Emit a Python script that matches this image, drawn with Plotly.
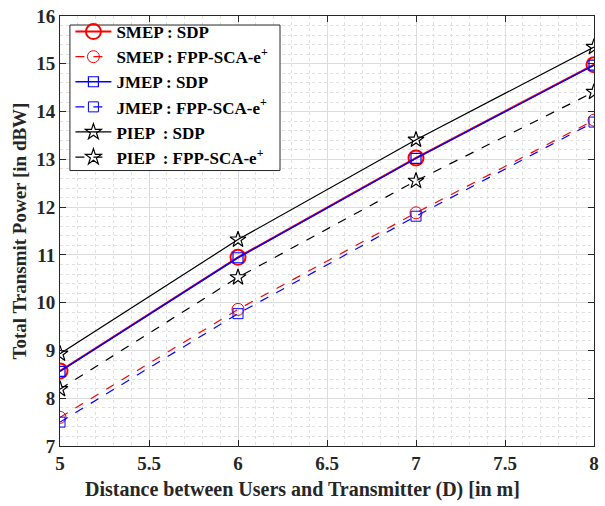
import plotly.graph_objects as go

D = [5, 6, 7, 8]
smep_sdp = [8.57, 10.95, 13.03, 14.98]
smep_fpp = [7.60, 9.86, 11.88, 13.82]
jmep_sdp = [8.56, 10.94, 13.02, 14.97]
jmep_fpp = [7.50, 9.77, 11.81, 13.78]
piep_sdp = [8.93, 11.32, 13.41, 15.35]
piep_fpp = [8.19, 10.53, 12.55, 14.41]

names = [
    "<b>SMEP : SDP</b>",
    "<b>SMEP : FPP-SCA-e<sup>+</sup></b>",
    "<b>JMEP : SDP</b>",
    "<b>JMEP : FPP-SCA-e<sup>+</sup></b>",
    "<b>PIEP  : SDP</b>",
    "<b>PIEP  : FPP-SCA-e<sup>+</sup></b>",
]

fig = go.Figure()
series = [
    (smep_sdp, "red", "solid", "circle-open", 15, 2.0, 2.0),
    (smep_fpp, "red", "dash", "circle-open", 12, 1.2, 1.0),
    (jmep_sdp, "blue", "solid", "square-open", 10, 1.5, 1.2),
    (jmep_fpp, "blue", "dash", "square-open", 10, 1.2, 1.0),
    (piep_sdp, "black", "solid", "star-open", 12, 1.2, 1.2),
    (piep_fpp, "black", "dash", "star-open", 12, 1.2, 1.2),
]
for (y, c, dash, sym, ms, lw, mlw), nm in zip(series, names):
    fig.add_trace(go.Scatter(
        x=D, y=y, name=nm, mode="lines+markers",
        line=dict(color=c, width=lw, dash=dash),
        marker=dict(symbol=sym, size=ms, color=c, line=dict(color=c, width=mlw)),
    ))

# legend frame (white box with dark border) drawn as a layout shape
fig.add_shape(type="rect", xref="paper", yref="paper",
              x0=0.0186, x1=0.412, y0=0.6406, y1=0.979,
              fillcolor="white", line=dict(color="#262626", width=1), layer="above")

fig.update_layout(
    width=605, height=506,
    margin=dict(l=60, r=6, t=12, b=60),
    paper_bgcolor="white", plot_bgcolor="white",
    font=dict(family="Liberation Serif", color="#262626"),
    legend=dict(
        x=0.0195, y=1.0046, xanchor="left", yanchor="top",
        bgcolor="rgba(0,0,0,0)", borderwidth=0,
        font=dict(family="Liberation Serif", size=17, color="black"),
        tracegroupgap=0, itemwidth=36,
    ),
    annotations=[dict(
        text="<b>Distance between Users and Transmitter (D) [in m]</b>",
        xref="paper", yref="paper", x=0.4545, y=-0.1014,
        xanchor="center", yanchor="middle", showarrow=False,
        font=dict(family="Liberation Serif", size=20, color="#262626"),
    )],
)
fig.update_xaxes(
    range=[5, 8], dtick=0.5, tick0=5,
    showline=True, linecolor="#262626", linewidth=1, mirror="ticks",
    ticks="inside", ticklen=6, tickcolor="#262626",
    showgrid=True, gridcolor="#dcdcdc", gridwidth=1,
    minor=dict(dtick=0.1, showgrid=True, gridcolor="#e0e0e0", griddash="dot", ticks=""),
    zeroline=False,
    tickfont=dict(family="Liberation Serif", size=19, color="#262626", weight="bold"),
)
fig.update_yaxes(
    range=[7, 16], dtick=1, tick0=7,
    showline=True, linecolor="#262626", linewidth=1, mirror="ticks",
    ticks="inside", ticklen=6, tickcolor="#262626",
    showgrid=True, gridcolor="#dcdcdc", gridwidth=1,
    minor=dict(dtick=0.2, showgrid=True, gridcolor="#e0e0e0", griddash="dot", ticks=""),
    zeroline=False,
    tickfont=dict(family="Liberation Serif", size=19, color="#262626", weight="bold"),
    title=dict(text="<b>Total Transmit Power [in dBW]</b>",
               font=dict(family="Liberation Serif", size=19, color="#262626"), standoff=4),
)
fig.write_html("out.html")
